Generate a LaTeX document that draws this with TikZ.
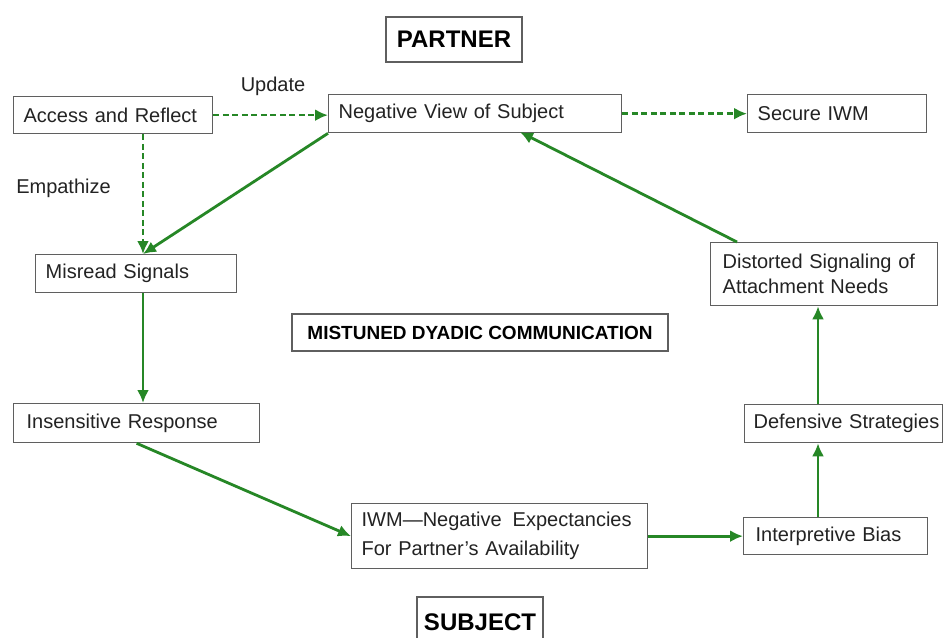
\documentclass[tikz,border=0pt]{standalone}
\usepackage{fontspec}
\setmainfont{Liberation Sans}
\usetikzlibrary{arrows.meta,calc}
\definecolor{arrowgreen}{RGB}{38,135,38}
\definecolor{boxgray}{RGB}{95,95,95}
\definecolor{txt}{RGB}{35,35,35}
\begin{document}
\begin{tikzpicture}[x=1pt,y=-1pt,
  box/.style={draw=boxgray, line width=1.3pt, fill=white, text=txt, anchor=north west,
    inner xsep=10pt, inner ysep=0pt, align=left,
    font=\fontsize{20}{27}\selectfont},
  titlebox/.style={draw=boxgray, line width=1.3pt, fill=white, text=black, inner sep=0pt,
    font=\bfseries},
  lbl/.style={text=txt, inner sep=0pt, font=\fontsize{20}{25}\selectfont},
  flow/.style={draw=arrowgreen, line width=2.8pt, -{Latex[length=13pt,width=12pt]}},
  dflow/.style={flow, line width=2.6pt, dash pattern=on 6pt off 3.5pt}]
\useasboundingbox (0,0) rectangle (944,637);
\clip (0,0) rectangle (944,637);
\fill[white] (0,0) rectangle (944,637);

% title boxes
\node[titlebox, minimum width=136pt, minimum height=45pt, font=\bfseries\fontsize{24}{28}\selectfont] (partner) at (454,39.5) {PARTNER};
\node[titlebox, minimum width=376pt, minimum height=37pt, font=\bfseries\fontsize{19}{23}\selectfont] (mist) at (480,332.5) {MISTUNED DYADIC COMMUNICATION};
\node[titlebox, minimum width=126pt, minimum height=50pt, font=\bfseries\fontsize{24}{28}\selectfont] (subj) at (480,622) {SUBJECT};

% process boxes
\node[box, text width=179pt, minimum height=37pt] (acc) at (13,96) {\mbox{Access and Reflect}};
\node[box, text width=273pt, minimum height=38pt] (neg) at (328,94) {\mbox{Negative View of Subject}};
\node[box, text width=159pt, minimum height=38pt] (sec) at (747,94) {\mbox{Secure IWM}};
\node[box, text width=181pt, minimum height=38pt] (mis) at (35,254) {\mbox{Misread Signals}};
\node[box, inner xsep=13pt, text width=220pt, minimum height=39pt] (ins) at (13,403) {\mbox{Insensitive Response}};
\node[box, text width=276pt, minimum height=65pt, font=\fontsize{20}{29}\selectfont] (iwm) at (351,503) {\mbox{IWM—Negative\hspace{0.55em}Expectancies}\\\mbox{For Partner’s Availability}};
\node[box, inner xsep=12pt, text width=203pt, minimum height=63pt, font=\fontsize{20}{25}\selectfont] (dis) at (710,242) {\mbox{Distorted Signaling of}\\\mbox{Attachment Needs}};
\node[box, inner xsep=9pt, text width=180pt, minimum height=38pt] (def) at (744,404) {\mbox{Defensive Strategies}};
\node[box, inner xsep=12pt, text width=160pt, minimum height=37pt] (int) at (743,517) {\mbox{Interpretive Bias}};

% edge labels
\node[lbl] (upd) at (273,86) {Update};
\node[lbl] (emp) at (63.5,188) {Empathize};

% guide coordinates
\coordinate (xl) at (143,0);
\coordinate (xr) at (818,0);
\coordinate (disin) at (737,242);
\coordinate (negin) at (520,132);

% connectors
\draw[dflow] (acc.east) -- (acc.east -| neg.west);
\draw[dflow] (neg.east) -- (sec.west);
\draw[dflow] (acc.south -| xl) -- (mis.north -| xl);
\draw[flow] (neg.south west) -- (mis.north -| xl);
\draw[flow] (mis.south -| xl) -- (ins.north -| xl);
\draw[flow] (ins.south) -- (iwm.west);
\draw[flow] (iwm.east |- int.west) -- (int.west);
\draw[flow] (int.north -| xr) -- (def.south -| xr);
\draw[flow] (def.north -| xr) -- (dis.south -| xr);
\draw[flow] (disin) -- (negin);
\end{tikzpicture}
\end{document}
